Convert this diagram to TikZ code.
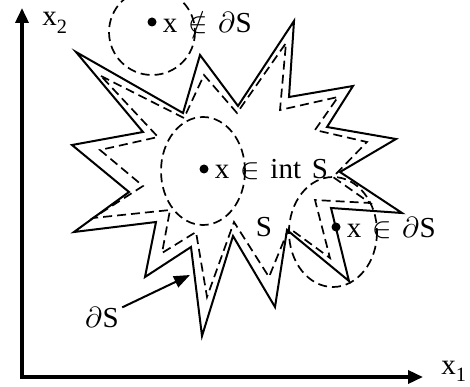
\documentclass[tikz,border=0pt]{standalone}
\usepackage{unicode-math}
\setmainfont[WordSpace=1.5]{Liberation Serif}
\usetikzlibrary{positioning,arrows.meta}

\begin{document}
\begin{tikzpicture}[
    x=1pt, y=-1pt,
    font=\fontsize{29}{33}\selectfont,
    star/.style={draw, line width=2pt, line join=miter},
    inset/.style={draw, line width=1.7pt, dash pattern=on 9pt off 5pt},
    nbhd/.style={draw, line width=1.7pt, dash pattern=on 9pt off 5pt},
    pt/.style={circle, fill, inner sep=0pt, minimum size=9pt},
    lbl/.style={inner sep=0pt, text depth=0pt},
    axis/.style={{Triangle[length=15pt,width=13pt]}-{Triangle[length=15pt,width=13pt]}, line width=3.5pt},
    arrow/.style={-{Triangle[length=16pt,width=12pt]}, line width=2pt}
]
    \useasboundingbox (0,0) rectangle (470,387);

    % Axes
    \coordinate (O) at (22,377);
    \coordinate (xend) at (423,377);
    \coordinate (yend) at (22,8);
    \draw[axis] (yend) -- (O) -- (xend);
    \node[inner sep=0pt, anchor=base] (x1) at (454,374) {x\textsubscript{1}};
    \node[inner sep=0pt, anchor=base] (x2) at (55,26) {x\textsubscript{2}};

    % Set S
    \draw[star] (76,52) -- (183,113) -- (200,55) -- (238,106) -- (294,21)
        -- (289,97) -- (353,86) -- (327,127) -- (396,139) -- (340,172)
        -- (402,213) -- (331,208) -- (349,281) -- (287,230) -- (275,307)
        -- (233,236) -- (202,336) -- (191,247) -- (145,277) -- (156,222)
        -- (74,232) -- (129,192) -- (72,145) -- (143,132) -- cycle;

    % Inner boundary
    \draw[inset] (101,76) -- (184,118) -- (204,75) -- (237,113) -- (286,43)
        -- (280,110) -- (338,97) -- (315,130) -- (367,142) -- (333,177)
        -- (370,203) -- (315,200) -- (330,258) -- (289,228) -- (269,277)
        -- (234,222) -- (207,297) -- (196,232) -- (162,253) -- (170,210)
        -- (93,218) -- (143,186) -- (100,150) -- (158,137) -- cycle;

    % Neighbourhoods
    \draw[nbhd] (152,32) ellipse [x radius=43, y radius=43];
    \draw[nbhd] (203,171) ellipse [x radius=42, y radius=54];
    \draw[nbhd] (333,232) ellipse [x radius=44, y radius=55];

    % Points
    \node[pt] (pout) at (152,22) {};
    \node[lbl, right=6pt of pout] {x $\notin$ $\partial$S};
    \node[pt] (pint) at (204,169) {};
    \node[lbl, right=6pt of pint] {x $\in$ int S};
    \node[pt] (pbnd) at (336,227) {};
    \node[lbl, right=6pt of pbnd] {x $\in$ $\partial$S};

    \node (setS) at (264,227) {S};

    % Boundary label
    \node (bnd) at (102,317) {$\partial$S};
    \coordinate (bndpt) at (190,275);
    \draw[arrow] (bnd) -- (bndpt);
\end{tikzpicture}
\end{document}
